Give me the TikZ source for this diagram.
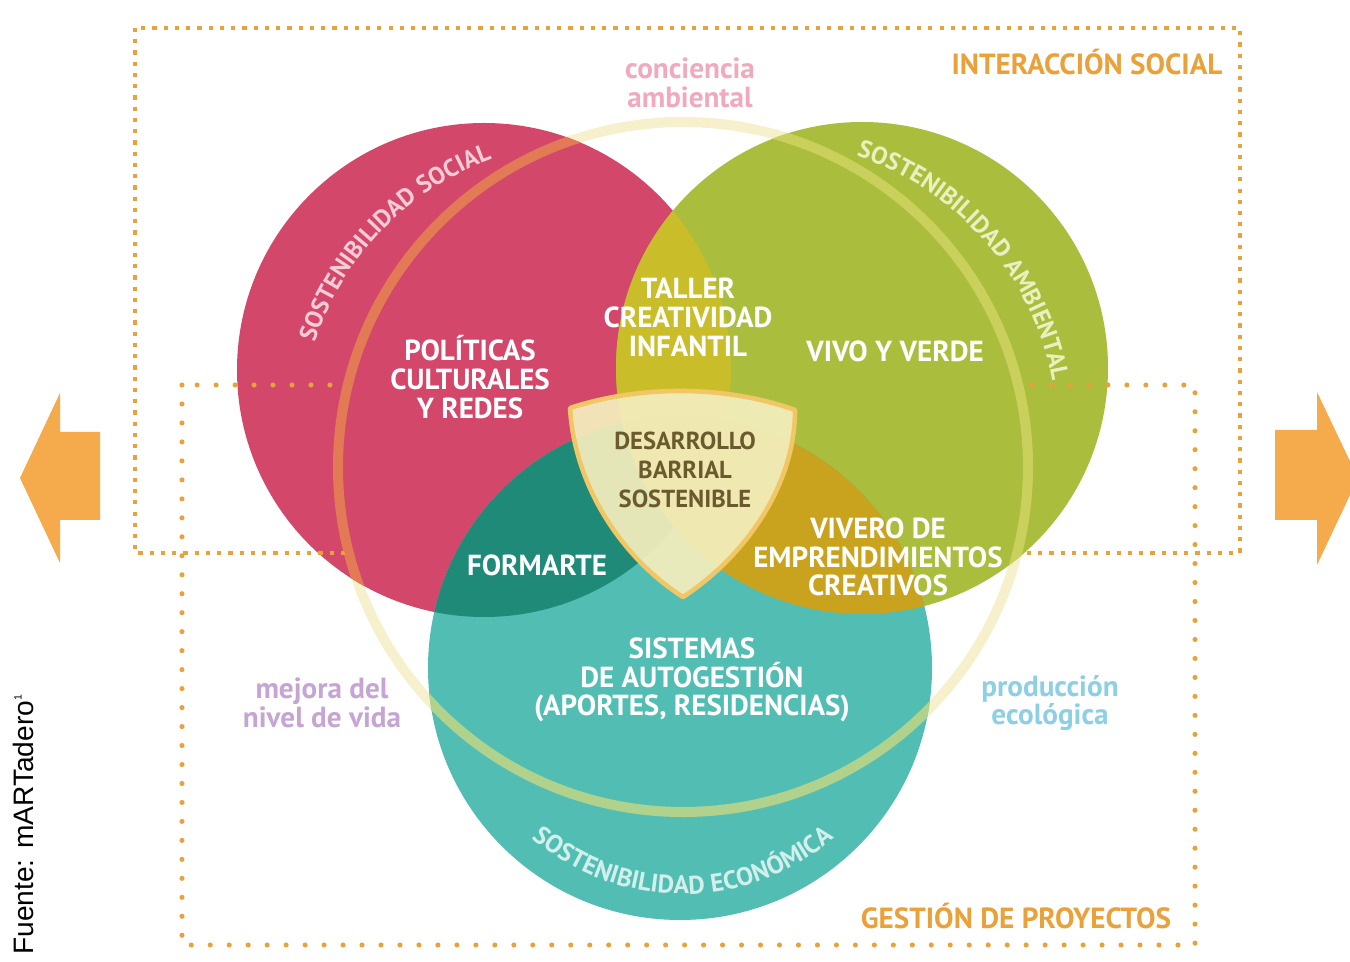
\documentclass[tikz,border=0pt]{standalone}
\usepackage{fontspec}
\setmainfont{PT Sans}
\newfontfamily\arialfont{Liberation Sans}
\usetikzlibrary{decorations.text}
\definecolor{cred}{HTML}{D2476A}
\definecolor{cgreen}{HTML}{AABD3C}
\definecolor{cteal}{HTML}{52BEB3}
\definecolor{cyel}{HTML}{C9BE2A}
\definecolor{cdteal}{HTML}{1F8A77}
\definecolor{cmust}{HTML}{C9A31D}
\definecolor{ringpale}{HTML}{F6F1CC}
\definecolor{ringred}{HTML}{E27A55}
\definecolor{ringgreen}{HTML}{C9D15C}
\definecolor{ringteal}{HTML}{B0D28C}
\definecolor{shieldfill}{HTML}{F4EEBD}
\definecolor{shieldline}{HTML}{F1C766}
\definecolor{dotc}{HTML}{E9A23B}
\definecolor{arrowc}{HTML}{F5AA4C}
\definecolor{orangetxt}{HTML}{EBA13A}
\definecolor{pinkt}{HTML}{F1AABD}
\definecolor{lavt}{HTML}{C6A4D3}
\definecolor{bluet}{HTML}{8DCFE5}
\definecolor{destxt}{HTML}{6B5A2E}
\definecolor{redtxt}{HTML}{F7CCD6}
\definecolor{greentxt}{HTML}{EAF0C0}
\definecolor{tealtxt}{HTML}{D2EFEB}
\tikzset{
  ring/.style={line width=5.7pt},
  lbl/.style={font=\bfseries\fontsize{16.5}{16.4}\selectfont, text=white, align=center, inner sep=0pt},
  deslbl/.style={font=\bfseries\fontsize{14}{16.4}\selectfont, text=destxt, align=center, inner sep=0pt},
  toplbl/.style={font=\bfseries\fontsize{16.6}{16.6}\selectfont, text=orangetxt, inner sep=0pt},
  soft/.style={font=\bfseries\fontsize{16.6}{16.4}\selectfont, align=center, inner sep=0pt},
  sqdots/.style={draw=dotc, line width=2.5pt, dash pattern=on 2.4pt off 4pt},
  rddots/.style={draw=dotc, line width=2.9pt, line cap=round, dash pattern=on 0pt off 10.8pt},
  shield/.style={fill=shieldfill, fill opacity=0.93, draw=shieldline, line width=2.6pt, line join=round},
  arrowshape/.style={fill=arrowc}
}
\begin{document}
\begin{tikzpicture}[x=0.02cm,y=0.02cm]
\useasboundingbox (0,0) rectangle (1350,-962);
\clip (0,0) rectangle (1350,-962);
\fill[white] (0,0) rectangle (1350,-962);
\coordinate (cR) at (484,-370);
\coordinate (cG) at (862,-368);
\coordinate (cT) at (680,-668);
\coordinate (cB) at (683,-467);
\coordinate (cRt) at (593,-434);
\coordinate (cGt) at (764,-434);
\coordinate (cTt) at (683,-661);

% pale ring outside the circles
\draw[ring, draw=ringpale] (cB) circle[radius=345];

% circles
\fill[cred] (cR) circle[radius=247];
\fill[cgreen] (cG) circle[radius=246];
\fill[cteal] (cT) circle[radius=252];

% lenses
\begin{scope}
  \clip (cR) circle[radius=247];
  \fill[cyel] (cG) circle[radius=246];
\end{scope}
\begin{scope}
  \clip (cR) circle[radius=247];
  \fill[cdteal] (cT) circle[radius=252];
\end{scope}
\begin{scope}
  \clip (cG) circle[radius=246];
  \fill[cmust] (cT) circle[radius=252];
\end{scope}

% ring over the circles
\begin{scope}
  \clip (cR) circle[radius=247];
  \draw[ring, draw=ringred] (cB) circle[radius=345];
\end{scope}
\begin{scope}
  \clip (cG) circle[radius=246];
  \draw[ring, draw=ringgreen] (cB) circle[radius=345];
\end{scope}
\begin{scope}
  \clip (cT) circle[radius=252];
  \draw[ring, draw=ringteal] (cB) circle[radius=345];
\end{scope}

% dotted frames, hidden inside the ring
\begin{scope}[even odd rule]
  \clip (-10,10) rectangle (1360,-972) (cB) circle[radius=349];
  \draw[sqdots] (135,-28) rectangle (1240,-553);
  \draw[rddots] (182,-385) rectangle (1195,-945);
\end{scope}

% central shield
\draw[shield] (570,-408) .. controls (640,-385) and (725,-385) .. (795,-410)
  .. controls (795,-490) and (740,-560) .. (683,-597)
  .. controls (625,-560) and (575,-490) .. cycle;

% curved texts
\path[decorate, decoration={text along path, text align=center, text color=redtxt,
  text={|\bfseries\fontsize{14}{14}\selectfont|SOSTENIBILIDAD SOCIAL}}]
  (cRt) ++(163:293) arc[start angle=163, end angle=109, radius=293];
\path[decorate, decoration={text along path, text align=center, text color=greentxt,
  text={|\bfseries\fontsize{14}{14}\selectfont|SOSTENIBILIDAD AMBIENTAL}}]
  (cGt) ++(73:293) arc[start angle=73, end angle=9, radius=293];
\path[decorate, decoration={text along path, text align=center, text color=tealtxt,
  text={|\bfseries\fontsize{14.5}{14.5}\selectfont|SOSTENIBILIDAD ECONÓMICA}}]
  (cTt) ++(226:233) arc[start angle=226, end angle=314, radius=233];

% labels
\node[lbl] (tal) at (688,-317) {TALLER\\CREATIVIDAD\\INFANTIL};
\node[lbl] (pol) at (470,-377) {POLÍTICAS\\CULTURALES\\Y REDES};
\node[lbl] (viv) at (895,-351) {VIVO Y VERDE};
\node[deslbl] (des) at (685,-470) {DESARROLLO\\BARRIAL\\SOSTENIBLE};
\node[lbl] (form) at (537,-565) {FORMARTE};
\node[lbl] (vivero) at (878,-557) {VIVERO DE\\EMPRENDIMIENTOS\\CREATIVOS};
\node[lbl] (sis) at (692,-680) {SISTEMAS\\DE AUTOGESTIÓN\\(APORTES, RESIDENCIAS)};

\node[toplbl] (inter) at (1087,-62) {INTERACCIÓN SOCIAL};
\node[toplbl] (gest) at (1016,-916) {GESTIÓN DE PROYECTOS};
\node[soft, text=pinkt] (conc) at (690,-83) {conciencia\\ambiental};
\node[soft, text=lavt] (mej) at (322,-703) {mejora del\\nivel de vida};
\node[soft, text=bluet] (prod) at (1050,-703) {producción\\ecológica};

% arrows
\fill[arrowshape] (20,-478) -- (60,-393) -- (60,-432) -- (100,-432) -- (100,-520) -- (60,-520) -- (60,-563) -- cycle;
\fill[arrowshape] (1358,-478) -- (1317,-392) -- (1317,-430) -- (1275,-430) -- (1275,-520) -- (1317,-520) -- (1317,-565) -- cycle;

% source
\node[rotate=90, anchor=base west, inner sep=0pt, font=\arialfont\fontsize{16}{16}\selectfont, text=black]
  (src) at (33,-955) {Fuente: mARTadero\raisebox{6.5pt}{\fontsize{6}{6}\selectfont 1}};
\end{tikzpicture}
\end{document}
